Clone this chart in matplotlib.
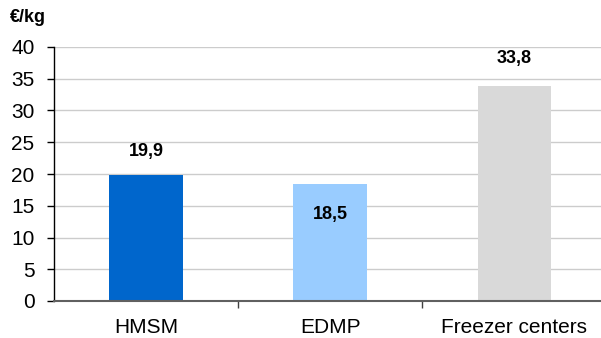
import matplotlib
matplotlib.use("Agg")
import matplotlib.pyplot as plt

categories = ["HMSM", "EDMP", "Freezer centers"]
values = [19.9, 18.5, 33.8]
value_labels = ["19,9", "18,5", "33,8"]
colors = ["#0066CC", "#99CCFF", "#D9D9D9"]
yticks = [0, 5, 10, 15, 20, 25, 30, 35, 40]

plt.rcParams['font.family'] = ['Liberation Sans', 'DejaVu Sans']

fig = plt.figure(figsize=(6.01, 3.38), dpi=100)
ax = fig.add_axes([54/601, 37/338, 1 - 54/601, 254/338])

x = list(range(len(categories)))
ax.bar(x, values, width=0.4, color=colors, zorder=2)

# label offsets (points): above, inside, above
offsets = [17, -22, 20]
for xi, v, lab, off in zip(x, values, value_labels, offsets):
    ax.annotate(lab, (xi, v), xytext=(0, off), textcoords="offset points",
                ha="center", va="center", fontsize=13, fontweight="bold")

ax.set_ylim(0, 40)
ax.set_xlim(-0.5, 2.47)
ax.set_yticks(yticks)
ax.set_yticklabels([str(t) for t in yticks], fontsize=15)
ax.set_xticks(x)
ax.set_xticklabels(categories, fontsize=15)
ax.tick_params(axis='x', length=0, pad=12)
ax.set_xticks([0.5, 1.5], minor=True)
ax.tick_params(axis='x', which='minor', length=5, width=1, color='#404040')
ax.tick_params(axis='y', length=5, width=1, pad=9)

ax.grid(axis='y', color='#CCCCCC', linewidth=1, zorder=0)
ax.set_axisbelow(True)
for s in ['top', 'right']:
    ax.spines[s].set_visible(False)
ax.spines['left'].set_color('black')
ax.spines['left'].set_linewidth(1)
ax.spines['bottom'].set_color('#606060')
ax.spines['bottom'].set_linewidth(1.5)

fig.text(10/601, 1 - 18/338, "€/kg", fontsize=13, fontweight="bold",
         ha="left", va="center")

fig.savefig("out.png", dpi=100)
